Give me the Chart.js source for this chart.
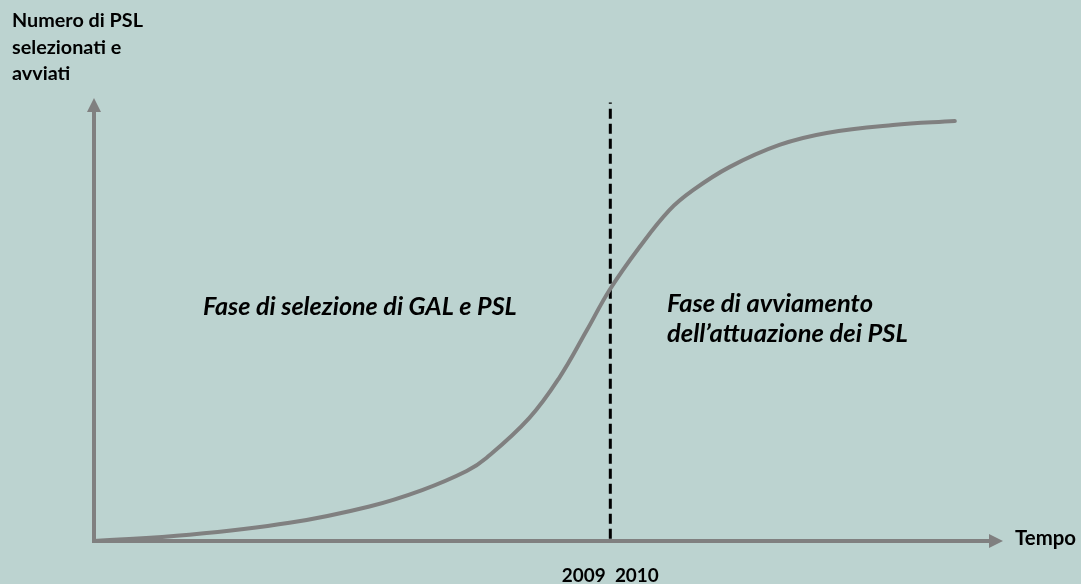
<!DOCTYPE html>
<html>
<head>
<meta charset="utf-8">
<script src="https://cdn.jsdelivr.net/npm/chart.js@4/dist/chart.umd.min.js"></script>
<style>
    body { margin: 0; background: #bcd3d0; }
    #wrap { position: relative; width: 1081px; height: 584px; }
</style>
</head>
<body>
<div id="wrap"><canvas id="curve"></canvas></div>
<script>
// curve values (time 0..100, number of PSL 0..100)
const timeValues = [0, 10.5, 21.5, 30.3, 36.1, 41.0, 43.2, 47.9, 51.2, 54.2, 56.7, 60.0, 63.3, 65.9, 69.9, 75.4, 80.6, 87.9, 94.7];
const pslValues = [0, 1.4, 4.1, 7.8, 11.5, 15.8, 18.8, 27.8, 36.9, 47.5, 56.6, 66.3, 74.7, 79.2, 84.4, 89.4, 92.1, 93.9, 94.8];

// boundary between 2009 and 2010
const boundaryTime = 56.8;
const boundaryRange = [0.5, 99];

const yTitle = ['Numero di PSL', 'selezionati e', 'avviati'];
const xTitle = 'Tempo';
const yearLabels = ['2009', '2010'];
const phaseLeft = ['Fase di selezione di GAL e PSL'];
const phaseRight = ['Fase di avviamento', 'dell\u2019attuazione dei PSL'];

const BG = '#bcd3d0';
const GREY = '#808080';
const FAMILY = 'Lato, "Open Sans", sans-serif';

// font size so that text fits a given width
function fitSize(ctx, text, style, width) {
    ctx.font = style + ' 100px ' + FAMILY;
    return 100 * width / ctx.measureText(text).width;
}

const backgroundPlugin = {
    id: 'bg',
    beforeDraw(chart) {
        const ctx = chart.ctx;
        ctx.save();
        ctx.fillStyle = BG;
        ctx.fillRect(0, 0, chart.width, chart.height);
        ctx.restore();
    }
};

const arrowAxesPlugin = {
    id: 'arrowAxes',
    beforeDatasetsDraw(chart) {
        const ctx = chart.ctx;
        const x0 = chart.scales.x.getPixelForValue(0);
        const y0 = chart.scales.y.getPixelForValue(0);
        const top = chart.chartArea.top;
        const right = chart.chartArea.right;

        ctx.save();
        ctx.strokeStyle = GREY;
        ctx.fillStyle = GREY;
        ctx.lineWidth = 4;
        ctx.lineCap = 'butt';

        ctx.beginPath();
        ctx.moveTo(x0, y0 + 2);
        ctx.lineTo(x0, top + 12);
        ctx.moveTo(x0 - 2, y0);
        ctx.lineTo(right - 12, y0);
        ctx.stroke();

        // arrow heads
        ctx.beginPath();
        ctx.moveTo(x0, top);
        ctx.lineTo(x0 + 7, top + 14);
        ctx.lineTo(x0 - 7, top + 14);
        ctx.closePath();
        ctx.fill();

        ctx.beginPath();
        ctx.moveTo(right, y0);
        ctx.lineTo(right - 14, y0 - 7);
        ctx.lineTo(right - 14, y0 + 7);
        ctx.closePath();
        ctx.fill();
        ctx.restore();
    }
};

const labelsPlugin = {
    id: 'labels',
    afterDraw(chart) {
        const ctx = chart.ctx;
        const bx = chart.scales.x.getPixelForValue(boundaryTime);
        ctx.save();
        ctx.fillStyle = '#000';
        ctx.textBaseline = 'alphabetic';
        ctx.textAlign = 'left';

        // y axis title
        let size = fitSize(ctx, yTitle[0], 'bold', 131);
        ctx.font = 'bold ' + size + 'px ' + FAMILY;
        yTitle.forEach((line, i) => ctx.fillText(line, 12, 27 + i * 26.5));

        // x axis title
        size = fitSize(ctx, xTitle, 'bold', 61);
        ctx.font = 'bold ' + size + 'px ' + FAMILY;
        ctx.fillText(xTitle, 1015, 545);

        // years under the boundary
        const years = yearLabels.join('  ');
        size = fitSize(ctx, years, 'bold', 97);
        ctx.font = 'bold ' + size + 'px ' + FAMILY;
        ctx.textAlign = 'center';
        ctx.fillText(years, bx, 582);

        // phase annotations
        ctx.textAlign = 'left';
        size = fitSize(ctx, phaseLeft[0], 'italic bold', 314);
        ctx.font = 'italic bold ' + size + 'px ' + FAMILY;
        ctx.fillText(phaseLeft[0], 203, 315);

        size = fitSize(ctx, phaseRight[1], 'italic bold', 241);
        ctx.font = 'italic bold ' + size + 'px ' + FAMILY;
        phaseRight.forEach((line, i) => ctx.fillText(line, 667, 312 + i * 30));
        ctx.restore();
    }
};

const ctx = document.getElementById('curve');
new Chart(ctx, {
    type: 'line',
    data: {
        datasets: [{
            label: 'PSL',
            data: timeValues.map((t, i) => ({ x: t, y: pslValues[i] })),
            borderColor: GREY,
            borderWidth: 4,
            borderCapStyle: 'round',
            tension: 0.4,
            pointRadius: 0,
            fill: false
        }, {
            label: 'confine',
            data: boundaryRange.map(v => ({ x: boundaryTime, y: v })),
            borderColor: '#000',
            borderWidth: 3,
            borderDash: [10, 5],
            pointRadius: 0,
            fill: false
        }]
    },
    plugins: [backgroundPlugin, arrowAxesPlugin, labelsPlugin],
    options: {
        responsive: true,
        maintainAspectRatio: false,
        animation: false,
        layout: {
            padding: { left: 94, right: 78, top: 98, bottom: 43 }
        },
        scales: {
            x: { type: 'linear', min: 0, max: 100, display: false },
            y: { type: 'linear', min: 0, max: 100, display: false }
        },
        plugins: {
            legend: { display: false },
            tooltip: { enabled: false }
        }
    }
});
</script>
</body>
</html>
